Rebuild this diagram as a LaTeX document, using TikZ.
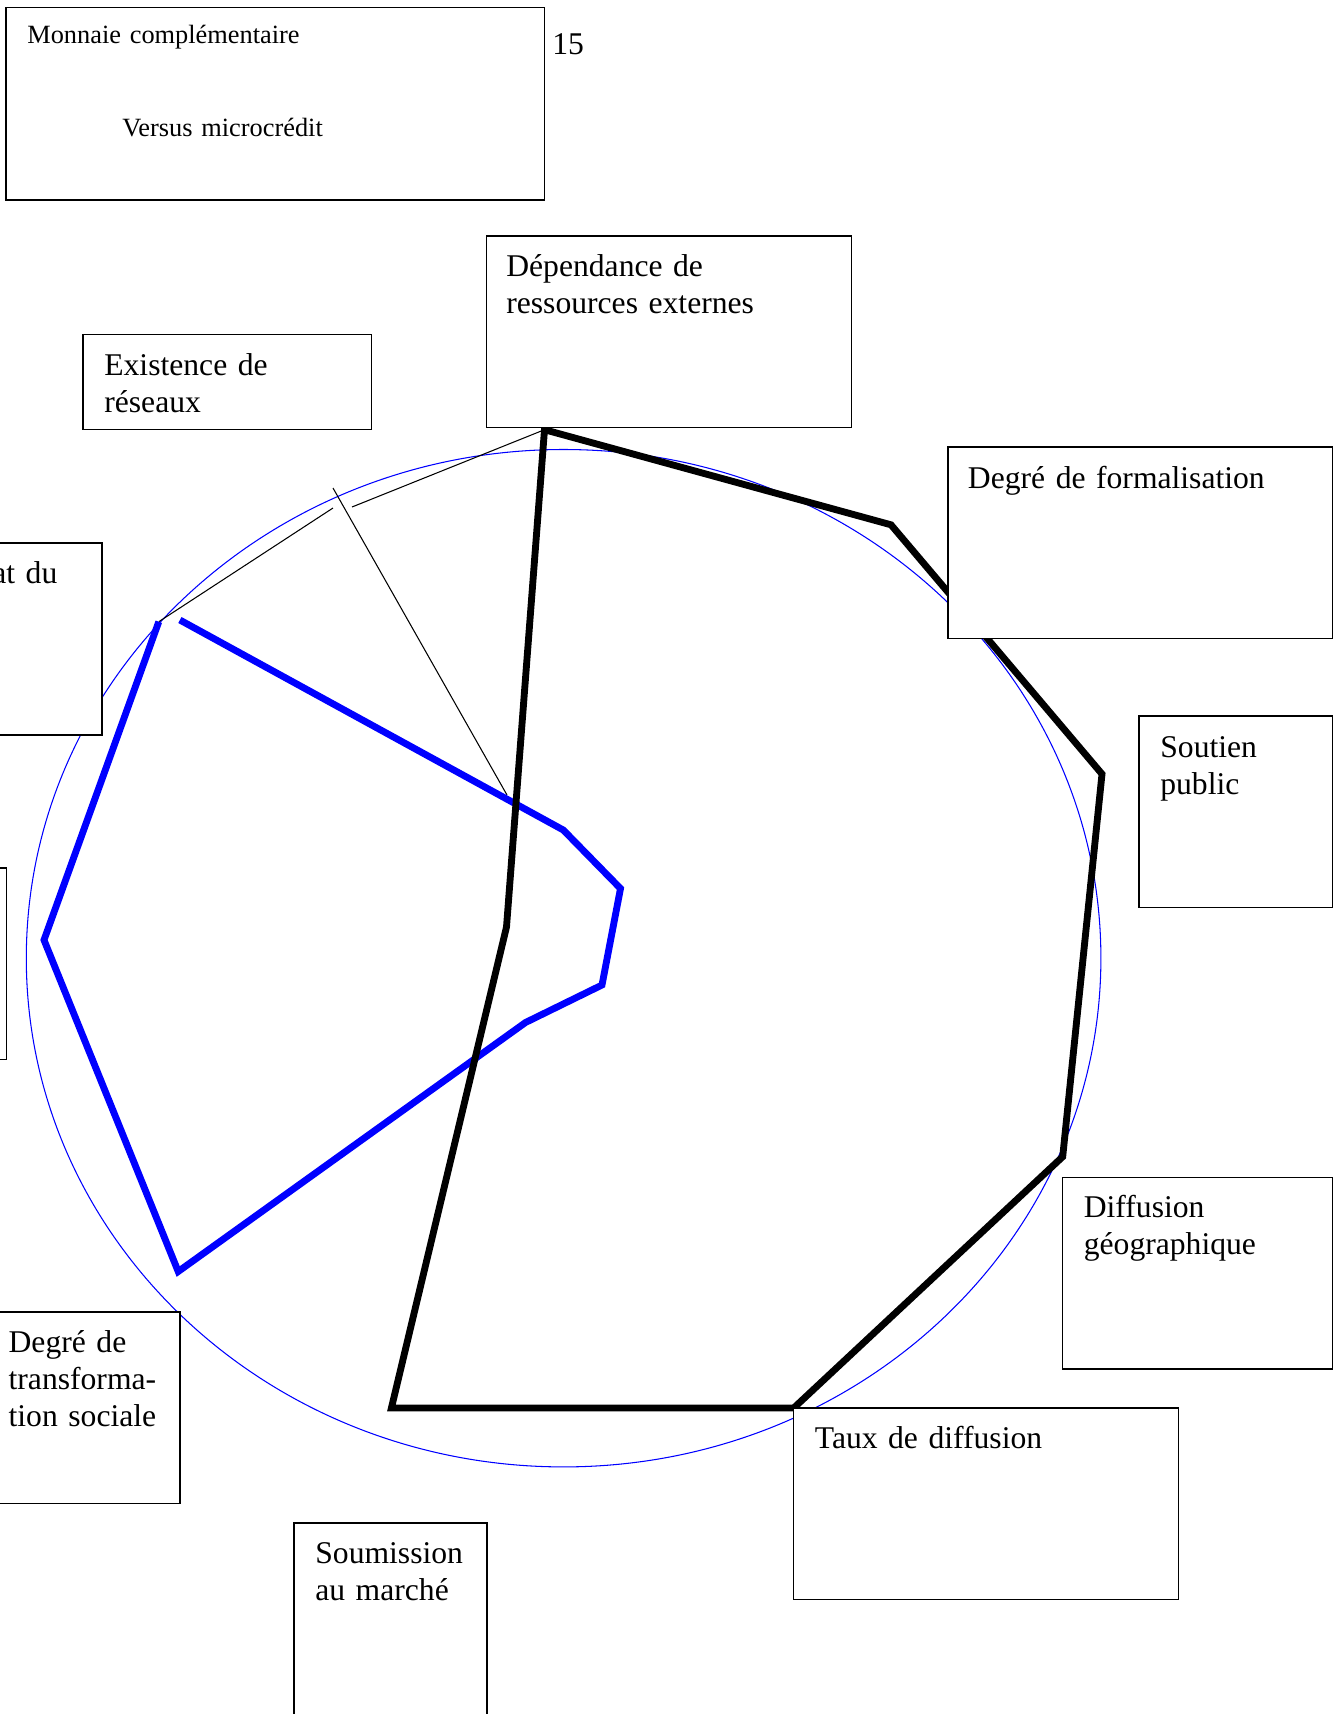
\documentclass[tikz,border=0pt]{standalone}
\usepackage{fontspec}
\setmainfont{Liberation Serif}
\newcommand\grand{\fontsize{18}{21.1}\selectfont}
\newcommand\petit{\fontsize{15}{17.6}\selectfont}
\begin{document}
\begin{tikzpicture}[x=0.02cm,y=-0.02cm,
  cadre/.style={draw,fill=white,line width=.75pt,anchor=north west,inner sep=0,outer sep=0,minimum height=3.83cm},
  txt/.style={anchor=base west,inner sep=0,align=left,font=\grand,text width=7cm},
  trait/.style={line width=3.9pt}]
\useasboundingbox (0,0) rectangle (1336,1714);
% cercle
\draw[blue,line width=.6pt] (563.6,958.2) ellipse [x radius=10.748cm,y radius=10.176cm];
% traits fins
\coordinate (hautN) at (544.5,429.7);
\coordinate (hautB) at (158.8,621.7);
\draw[line width=.6pt] (hautN)--(352,507);
\draw[line width=.6pt] (333,508)--(hautB);
\draw[line width=.6pt] (333,488)--(507,795);
% profil bleu
\draw[trait,blue] (179.9,620)--(563.3,830)--(620.5,888.5)--(602,985)--(525.5,1022.5)--(178.2,1271.5)--(44,940)--(hautB);
% profil noir
\draw[trait] (hautN)--(891,524.8)--(1102,774)--(1062.7,1156.7)--(793.7,1408)--(391.4,1408)--(506.5,927)--cycle;
% cadres
\node[cadre,minimum width=10.77cm,minimum height=3.85cm] (titre) at (6,7.5) {};
\node[txt,font=\petit] (titreA) at (27,43.3) {Monnaie complémentaire};
\node[txt,font=\petit] (titreB) at (122,136) {Versus microcrédit};
\node[txt] (page) at (552,54) {15};
\node[cadre,minimum width=7.30cm] (dep) at (486.5,236) {};
\node[txt] (depT) at (506,276.5) {Dépendance de\\ressources externes};
\node[cadre,minimum width=5.77cm,minimum height=1.90cm] (res) at (83,334.5) {};
\node[txt] (resT) at (104,375) {Existence de\\réseaux};
\node[cadre,minimum width=2.24cm,minimum height=3.84cm] (etat) at (-10,543) {};
\node[txt] (etatT) at (-8,583) {at du};
\node[cadre,minimum width=0.33cm] (gauche) at (-10,868) {};
\node[cadre,minimum width=7.69cm] (form) at (948,447) {};
\node[txt] (formT) at (967.6,488.5) {Degré de formalisation};
\node[cadre,minimum width=3.87cm] (sout) at (1139,716) {};
\node[txt] (soutT) at (1160,757.5) {Soutien\\public};
\node[cadre,minimum width=5.40cm] (geo) at (1062.7,1177.5) {};
\node[txt] (geoT) at (1083.5,1217.5) {Diffusion\\géographique};
\node[cadre,minimum width=7.70cm] (taux) at (793.7,1408) {};
\node[txt] (tauxT) at (814.5,1448) {Taux de diffusion};
\node[cadre,minimum width=3.80cm] (transf) at (-10,1312) {};
\node[txt] (transfT) at (8.3,1352) {Degré de\\transforma-\\tion sociale};
\node[cadre,minimum width=3.86cm] (march) at (294,1523) {};
\node[txt] (marchT) at (315,1563) {Soumission\\au marché};
\end{tikzpicture}
\end{document}
